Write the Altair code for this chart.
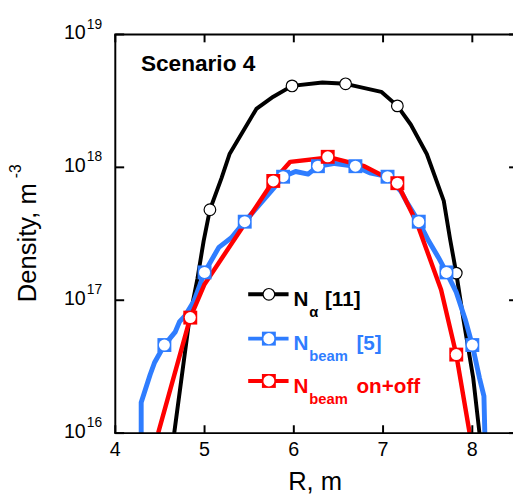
import altair as alt
import pandas as pd

# ---------------- data ----------------
# N_alpha [11] (black)
alpha_R = [4.66, 4.83, 4.92, 4.99, 5.06, 5.19, 5.28, 5.36, 5.58, 5.77, 5.98, 6.32,
           6.58, 6.98, 7.16, 7.31, 7.49, 7.68, 7.75, 7.82, 7.90, 8.01, 8.08]
alpha_N = [1.0e16, 7.2e16, 1.45e17, 2.8e17, 4.8e17, 8.3e17, 1.26e18, 1.55e18, 2.75e18,
           3.4e18, 4.1e18, 4.35e18, 4.25e18, 3.7e18, 2.9e18, 2.1e18, 1.26e18, 5.6e17,
           2.9e17, 1.6e17, 7.2e16, 2.6e16, 1.0e16]
alpha_mR = [5.06, 5.98, 6.58, 7.16, 7.82]
alpha_mN = [4.8e17, 4.1e18, 4.25e18, 2.9e18, 1.6e17]

# N_beam [5] (blue)
beam_R = [4.29, 4.29, 4.39, 4.44, 4.55, 4.67, 4.72, 4.78, 4.88, 5.00, 5.16, 5.30, 5.45,
          5.77, 5.88, 6.02, 6.16, 6.27, 6.46, 6.69, 6.85, 7.05, 7.20, 7.27, 7.40, 7.51,
          7.62, 7.71, 7.82, 7.92, 8.00, 8.08, 8.13, 8.14]
beam_N = [1.0e16, 1.7e16, 2.75e16, 3.4e16, 4.6e16, 5.75e16, 6.9e16, 7.6e16, 9.8e16,
          1.62e17, 2.5e17, 2.95e17, 3.9e17, 6.9e17, 8.5e17, 9.3e17, 8.9e17, 1.02e18,
          1.07e18, 1.02e18, 9.1e17, 8.5e17, 6.6e17, 5.4e17, 3.9e17, 2.8e17, 2.1e17,
          1.62e17, 1.15e17, 7.2e16, 4.6e16, 2.6e16, 1.9e16, 1.0e16]
beam_mR = [4.55, 5.00, 5.45, 5.88, 6.27, 6.69, 7.05, 7.40, 7.71, 8.00]
beam_mN = [4.6e16, 1.62e17, 3.9e17, 8.5e17, 1.02e18, 1.02e18, 8.5e17, 3.9e17, 1.62e17, 4.6e16]

# N_beam on+off (red)
onoff_R = [4.48, 4.84, 5.00, 5.77, 5.96, 6.32, 6.38, 6.79, 7.16, 7.38, 7.65, 7.82, 7.97]
onoff_N = [1.0e16, 7.4e16, 1.32e17, 7.9e17, 1.1e18, 1.17e18, 1.2e18, 1.02e18, 7.6e17,
           3.8e17, 1.2e17, 3.9e16, 1.0e16]
onoff_mR = [4.84, 5.77, 6.38, 7.16, 7.82]
onoff_mN = [7.4e16, 7.9e17, 1.2e18, 7.6e17, 3.9e16]

x_ticks = [4, 5, 6, 7, 8]
x_tick_labels = ["4", "5", "6", "7", "8"]
y_ticks = [1e16, 1e17, 1e18, 1e19]
y_tick_exp = ["16", "17", "18", "19"]

# ---------------- styling ----------------
W, H = 404, 405
XMAX = 4 + W / 90.67
BLUE = "#2f7dff"
RED = "#ff0000"
SANS = "Liberation Sans, Arial"

xs = alt.Scale(domain=[4, XMAX], nice=False, zero=False)
ys = alt.Scale(type="log", domain=[1e16, 1e19], nice=False)


def X():
    return alt.X("R:Q", scale=xs, axis=None)


def Y():
    return alt.Y("N:Q", scale=ys, axis=None)


def df_line(R, N):
    return pd.DataFrame({"R": R, "N": N, "i": list(range(len(R)))})


def line(R, N, color, width):
    return alt.Chart(df_line(R, N)).mark_line(
        color=color, strokeWidth=width, clip=True, strokeJoin="round"
    ).encode(x=X(), y=Y(), order=alt.Order("i:Q"))


def sq_markers(R, N, color):
    d = pd.DataFrame({"R": R, "N": N})
    sq = alt.Chart(d).mark_square(color=color, size=200, opacity=1).encode(x=X(), y=Y())
    ci = alt.Chart(d).mark_circle(color="white", size=125, opacity=1).encode(x=X(), y=Y())
    return sq + ci


one = pd.DataFrame({"k": [0]})

layers = []
layers.append(line(alpha_R, alpha_N, "black", 4))
layers.append(
    alt.Chart(pd.DataFrame({"R": alpha_mR, "N": alpha_mN}))
    .mark_point(shape="circle", filled=True, fill="white", stroke="black",
                strokeWidth=1.2, size=140, opacity=1)
    .encode(x=X(), y=Y())
)
layers.append(line(beam_R, beam_N, BLUE, 5))
layers.append(line(onoff_R, onoff_N, RED, 4.5))
layers.append(sq_markers(beam_mR, beam_mN, BLUE))
layers.append(sq_markers(onoff_mR, onoff_mN, RED))

# frame (top, left, bottom)
layers.append(alt.Chart(one).mark_rule(color="black", strokeWidth=2)
              .encode(x=alt.value(-1), x2=alt.value(W), y=alt.value(0)))
layers.append(alt.Chart(one).mark_rule(color="black", strokeWidth=2)
              .encode(x=alt.value(-1), x2=alt.value(W), y=alt.value(H)))
layers.append(alt.Chart(one).mark_rule(color="black", strokeWidth=2)
              .encode(x=alt.value(0), y=alt.value(0), y2=alt.value(H)))

# inward ticks
xt = pd.DataFrame({"R": x_ticks, "lab": x_tick_labels})
yt = pd.DataFrame({"N": y_ticks, "exp": y_tick_exp})
layers.append(alt.Chart(xt).mark_rule(color="black", strokeWidth=2)
              .encode(x=X(), y=alt.value(H), y2=alt.value(H - 8)))
layers.append(alt.Chart(xt).mark_rule(color="black", strokeWidth=2)
              .encode(x=X(), y=alt.value(0), y2=alt.value(8)))
layers.append(alt.Chart(yt).mark_rule(color="black", strokeWidth=2)
              .encode(y=Y(), x=alt.value(0), x2=alt.value(9)))
layers.append(alt.Chart(yt).mark_rule(color="black", strokeWidth=2)
              .encode(y=Y(), x=alt.value(W - 4), x2=alt.value(W)))

# tick labels
layers.append(alt.Chart(xt).mark_text(font=SANS, fontSize=20, align="center",
                                      baseline="alphabetic", color="black")
              .encode(x=X(), y=alt.value(H + 23), text="lab:N"))
layers.append(alt.Chart(yt).mark_text(font=SANS, fontSize=20, align="right",
                                      baseline="alphabetic", dy=5, text="10", color="black")
              .encode(y=Y(), x=alt.value(-30)))
layers.append(alt.Chart(yt).mark_text(font=SANS, fontSize=14, align="left",
                                      baseline="alphabetic", dy=-6, color="black")
              .encode(y=Y(), x=alt.value(-29), text="exp:N"))

# axis titles
layers.append(alt.Chart(one).mark_text(text="R, m", font=SANS, fontSize=26, align="center",
                                       baseline="alphabetic", color="black")
              .encode(x=alt.value(203), y=alt.value(H + 58)))
layers.append(alt.Chart(one).mark_text(text="Density, m", font=SANS, fontSize=26, align="left",
                                       baseline="alphabetic", angle=270, color="black")
              .encode(x=alt.value(-81), y=alt.value(272)))
layers.append(alt.Chart(one).mark_text(text="-3", font=SANS, fontSize=16, align="left",
                                       baseline="alphabetic", angle=270, color="black")
              .encode(x=alt.value(-96), y=alt.value(146)))

# panel label
layers.append(alt.Chart(one).mark_text(text="Scenario 4", font=SANS, fontSize=23,
                                       fontWeight="bold", align="left",
                                       baseline="alphabetic", color="black")
              .encode(x=alt.value(26), y=alt.value(37)))

# legend
leg = [("black", 264, "α", "[11]"), (BLUE, 309, "beam", "[5]"), (RED, 352, "beam", "on+off")]
for color, yy, sub, tail in leg:
    layers.append(alt.Chart(one).mark_rule(color=color, strokeWidth=4)
                  .encode(x=alt.value(135), x2=alt.value(176), y=alt.value(yy)))
    if color == "black":
        layers.append(alt.Chart(one).mark_point(shape="circle", filled=True, fill="white",
                                                stroke="black", strokeWidth=1.2, size=140,
                                                opacity=1)
                      .encode(x=alt.value(156), y=alt.value(yy)))
    else:
        layers.append(alt.Chart(one).mark_square(color=color, size=200, opacity=1)
                      .encode(x=alt.value(156), y=alt.value(yy)))
        layers.append(alt.Chart(one).mark_circle(color="white", size=125, opacity=1)
                      .encode(x=alt.value(156), y=alt.value(yy)))
    base = yy + 12
    layers.append(alt.Chart(one).mark_text(text="N", font=SANS, fontSize=21, fontWeight="bold",
                                           align="left", baseline="alphabetic", color=color)
                  .encode(x=alt.value(181), y=alt.value(base)))
    layers.append(alt.Chart(one).mark_text(text=sub, font=SANS, fontSize=15, fontWeight="bold",
                                           align="left", baseline="alphabetic", color=color)
                  .encode(x=alt.value(197), y=alt.value(base + 11)))
    layers.append(alt.Chart(one).mark_text(text=tail, font=SANS, fontSize=21, fontWeight="bold",
                                           align="left", baseline="alphabetic", color=color)
                  .encode(x=alt.value(213 if color == "black" else 245), y=alt.value(base)))

chart = alt.layer(*layers).properties(
    width=W, height=H,
    padding={"left": 109, "top": 23, "right": 0, "bottom": 60},
    autosize=alt.AutoSizeParams(type="none"),
).configure_view(stroke=None)

chart.save("out.html", embed_options={"renderer": "svg", "actions": False})
